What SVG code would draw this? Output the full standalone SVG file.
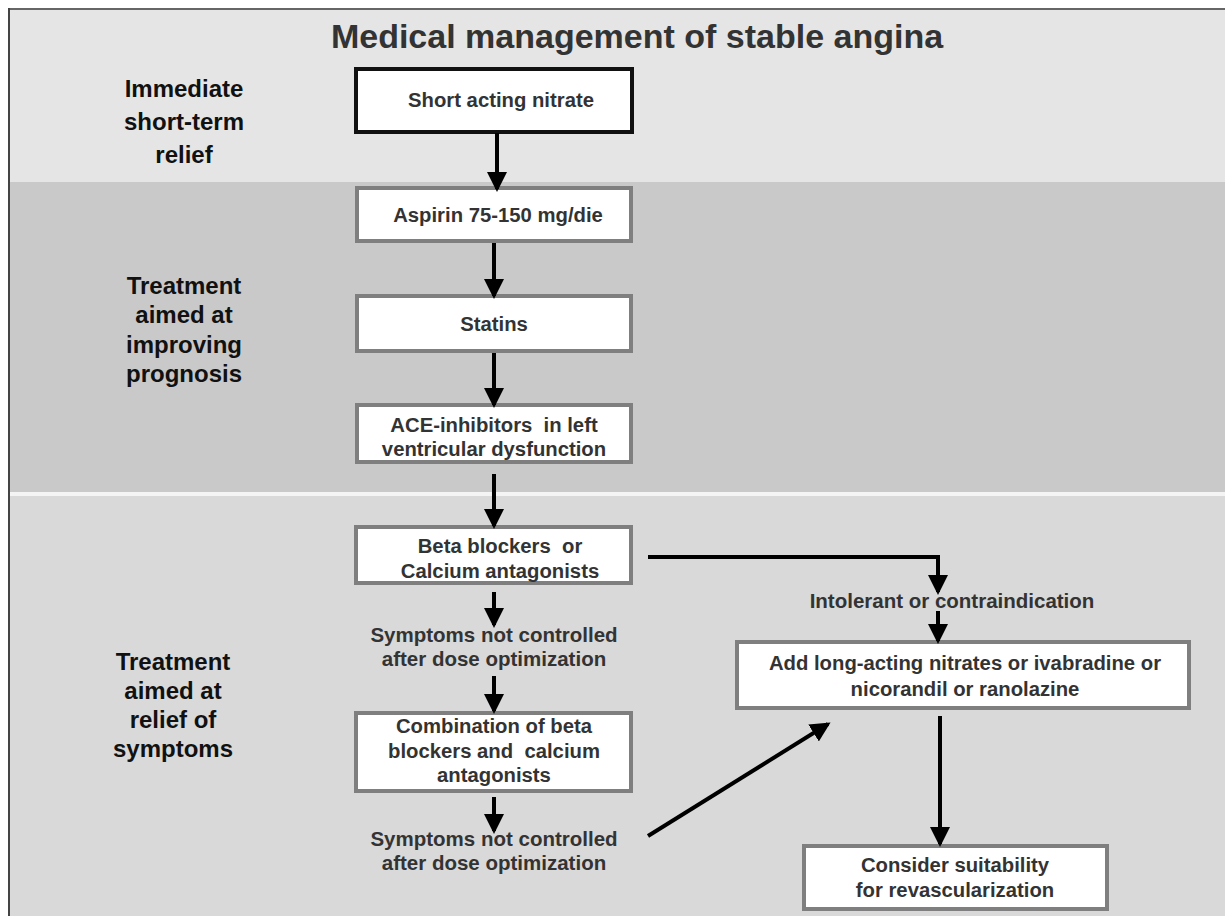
<svg xmlns="http://www.w3.org/2000/svg" width="1225" height="916" viewBox="0 0 1225 916">
<defs>
<marker id="ah" viewBox="0 0 10 10" refX="8.5" refY="5" markerWidth="5" markerHeight="5" markerUnits="strokeWidth" orient="auto">
<path d="M0,0 L10,5 L0,10 Z" fill="#000"/>
</marker>
<style>
.lbl{font-family:"Liberation Sans",Arial,sans-serif;font-weight:bold;font-size:24px;fill:#111;text-anchor:middle}
.box{fill:#fff;stroke:#7f7f7f;stroke-width:4}
.bt{font-family:"Liberation Sans",Arial,sans-serif;font-weight:bold;font-size:20.3px;fill:#333;text-anchor:middle}
.note{font-family:"Liberation Sans",Arial,sans-serif;font-weight:bold;font-size:20.5px;fill:#333;text-anchor:middle}
.con{stroke:#000;stroke-width:4;fill:none}
</style>
</defs>
<rect x="0" y="0" width="1225" height="916" fill="#fff"/>
<rect x="8" y="10" width="1217" height="172" fill="#e5e5e5"/>
<rect x="8" y="182" width="1217" height="310" fill="#c9c9c9"/>
<rect x="8" y="492" width="1217" height="4" fill="#f4f4f4"/>
<rect x="8" y="496" width="1217" height="420" fill="#d9d9d9"/>
<line x1="8" y1="9" x2="1225" y2="9" stroke="#666" stroke-width="2"/>
<line x1="9" y1="8" x2="9" y2="916" stroke="#444" stroke-width="2"/>
<text x="637" y="48" font-family="Liberation Sans, Arial, sans-serif" font-weight="bold" font-size="34" fill="#333" text-anchor="middle">Medical management of stable angina</text>
<g id="band1-label"><text class="lbl" x="184" y="97">Immediate</text><text class="lbl" x="184" y="130">short-term</text><text class="lbl" x="184" y="163">relief</text></g>
<g id="band2-label"><text class="lbl" x="184" y="294">Treatment</text><text class="lbl" x="184" y="323">aimed at</text><text class="lbl" x="184" y="353">improving</text><text class="lbl" x="184" y="382">prognosis</text></g>
<g id="band3-label"><text class="lbl" x="173" y="670">Treatment</text><text class="lbl" x="173" y="699">aimed at</text><text class="lbl" x="173" y="728">relief of</text><text class="lbl" x="173" y="757">symptoms</text></g>
<g id="n-nitrate"><rect x="356" y="69" width="276" height="63" fill="#fff" stroke="#111" stroke-width="4"/><text class="bt" x="501" y="107">Short acting nitrate</text></g>
<g id="n-aspirin"><rect class="box" x="357" y="188" width="274" height="53"/><text class="bt" x="498" y="222">Aspirin 75-150 mg/die</text></g>
<g id="n-statins"><rect class="box" x="357" y="296" width="274" height="55"/><text class="bt" x="494" y="331">Statins</text></g>
<g id="n-ace"><rect class="box" x="357" y="405" width="274" height="57"/><text class="bt" x="494" y="432" xml:space="preserve">ACE-inhibitors  in left</text><text class="bt" x="494" y="456">ventricular dysfunction</text></g>
<g id="n-beta"><rect class="box" x="356" y="527" width="275" height="56"/><text class="bt" x="500" y="553" xml:space="preserve">Beta blockers  or</text><text class="bt" x="500" y="578">Calcium antagonists</text></g>
<g id="t-symp1"><text class="note" x="494" y="642">Symptoms not controlled</text><text class="note" x="494" y="666">after dose optimization</text></g>
<g id="n-combo"><rect class="box" x="356" y="713" width="275" height="78"/><text class="bt" x="494" y="733">Combination of beta</text><text class="bt" x="494" y="758" xml:space="preserve">blockers and  calcium</text><text class="bt" x="494" y="782">antagonists</text></g>
<g id="t-symp2"><text class="note" x="494" y="846">Symptoms not controlled</text><text class="note" x="494" y="870">after dose optimization</text></g>
<g id="t-intol"><text class="note" x="952" y="608">Intolerant or contraindication</text></g>
<g id="n-add"><rect class="box" x="737" y="642" width="452" height="66"/><text class="bt" x="965" y="670">Add long-acting nitrates or ivabradine or</text><text class="bt" x="965" y="696">nicorandil or ranolazine</text></g>
<g id="n-revasc"><rect class="box" x="804" y="846" width="303" height="63"/><text class="bt" x="955" y="872">Consider suitability</text><text class="bt" x="955" y="897">for revascularization</text></g>
<g id="connectors">
<line class="con" x1="497" y1="133" x2="497" y2="189" marker-end="url(#ah)"/>
<line class="con" x1="494" y1="243" x2="494" y2="296" marker-end="url(#ah)"/>
<line class="con" x1="494" y1="353" x2="494" y2="405" marker-end="url(#ah)"/>
<line class="con" x1="494" y1="474" x2="494" y2="526" marker-end="url(#ah)"/>
<line class="con" x1="494" y1="592" x2="494" y2="625" marker-end="url(#ah)"/>
<line class="con" x1="494" y1="676" x2="494" y2="711" marker-end="url(#ah)"/>
<line class="con" x1="494" y1="797" x2="494" y2="831" marker-end="url(#ah)"/>
<polyline class="con" points="648,557 938,557 938,592" marker-end="url(#ah)"/>
<line class="con" x1="938" y1="611" x2="938" y2="641" marker-end="url(#ah)"/>
<line class="con" x1="940" y1="716" x2="940" y2="844" marker-end="url(#ah)"/>
<line class="con" x1="648" y1="836" x2="828" y2="724" marker-end="url(#ah)"/>
</g>
</svg>
